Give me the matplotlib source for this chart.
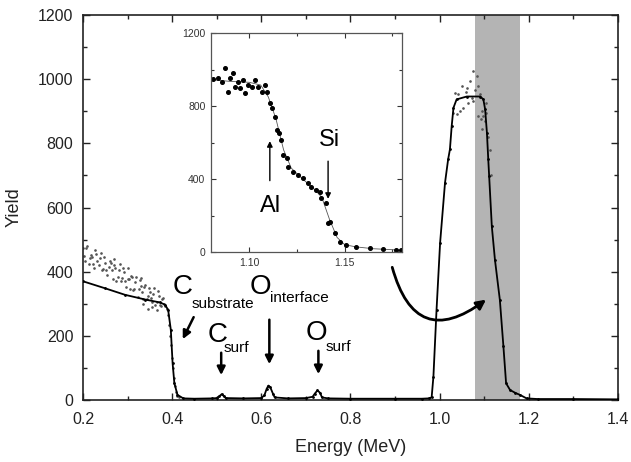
import matplotlib
matplotlib.use("Agg")
import matplotlib.pyplot as plt
from matplotlib.patches import FancyArrowPatch
from matplotlib.ticker import MultipleLocator

plt.rcParams["font.family"] = ["Liberation Sans", "DejaVu Sans"]

# simulated spectrum (solid line)
sim_e = [0.20, 0.25, 0.294, 0.34, 0.373, 0.384, 0.391, 0.397, 0.401, 0.405,
         0.412, 0.425, 0.45, 0.49, 0.50, 0.506, 0.511, 0.516, 0.52, 0.56,
         0.60, 0.607, 0.612, 0.616, 0.620, 0.626, 0.63, 0.66, 0.70, 0.715,
         0.72, 0.726, 0.732, 0.736, 0.75, 0.80, 0.90, 0.96, 0.975, 0.982,
         0.986, 0.993, 1.001, 1.012, 1.019, 1.023, 1.027, 1.031, 1.038, 1.061,
         1.091, 1.098, 1.102, 1.106, 1.109, 1.111, 1.117, 1.124, 1.135, 1.143,
         1.149, 1.158, 1.17, 1.18, 1.195, 1.22, 1.30, 1.40]
sim_y = [370, 348, 328, 313, 304, 297, 281, 219, 115, 52,
         16, 5, 4, 5, 6, 12, 18, 12, 6, 5,
         6, 15, 35, 45, 40, 20, 8, 5, 6, 10,
         20, 30, 22, 8, 5, 4, 4, 4, 5, 8,
         73, 281, 490, 677, 750, 781, 854, 911, 937, 946,
         946, 937, 906, 833, 750, 698, 541, 437, 312, 167,
         52, 31, 22, 16, 5, 3, 3, 2]

# measured points: low energy band, C edge, top of the Al/Si peak
exp_e = [0.2000, 0.2050, 0.2100, 0.2150, 0.2200, 0.2250, 0.2300, 0.2350, 0.2400, 0.2450,
         0.2500, 0.2550, 0.2600, 0.2650, 0.2700, 0.2750, 0.2800, 0.2850, 0.2900, 0.2950,
         0.3000, 0.3050, 0.3100, 0.3150, 0.3200, 0.3250, 0.3300, 0.3350, 0.3400, 0.3450,
         0.3500, 0.3550, 0.3600, 0.3650, 0.3700, 0.3750, 0.3800, 0.3850,
         0.2025, 0.2075, 0.2125, 0.2175, 0.2225, 0.2275, 0.2325, 0.2375, 0.2425, 0.2475,
         0.2525, 0.2575, 0.2625, 0.2675, 0.2725, 0.2775, 0.2825, 0.2875, 0.2925, 0.2975,
         0.3025, 0.3075, 0.3125, 0.3175, 0.3225, 0.3275, 0.3325, 0.3375, 0.3425, 0.3475,
         0.3525, 0.3575, 0.3625, 0.3675, 0.3725, 0.3775, 0.3825,
         0.270, 0.300, 0.330, 0.345, 0.355, 0.365, 0.335,
         0.388, 0.391, 0.394, 0.396, 0.398, 0.400, 0.402, 0.404, 0.406, 0.409,
         0.412, 0.416,
         1.031, 1.034, 1.038, 1.042, 1.046, 1.050, 1.053, 1.058, 1.061, 1.064,
         1.068, 1.072, 1.075, 1.075, 1.079, 1.083, 1.087, 1.087, 1.090, 1.092,
         1.094, 1.094, 1.098, 1.101, 1.103, 1.105, 1.108, 1.112, 1.115]
exp_y = [474, 434, 479, 442, 447, 410, 455, 421, 459, 408,
         427, 391, 433, 405, 420, 371, 405, 371, 411, 372,
         377, 347, 382, 347, 383, 346, 356, 314, 360, 325,
         336, 307, 348, 306, 323, 292, 317, 292,
         449, 474, 424, 451, 425, 467, 432, 443, 405, 446,
         406, 415, 428, 378, 411, 382, 425, 380, 398, 353,
         376, 388, 344, 367, 321, 373, 338, 353, 314, 349,
         318, 331, 295, 340, 296, 316, 298,
         440, 410, 380, 285, 290, 280, 300,
         285, 265, 235, 200, 170, 130, 100, 70, 45, 25,
         14, 8,
         896, 958, 890, 953, 901, 979, 911, 960, 974, 927,
         995, 940, 1026, 932, 965, 1010, 979, 885, 955, 875,
         901, 844, 885, 870, 925, 896, 820, 780, 700]

# inset: zoom on 1.08 - 1.18 MeV
ins_e = [1.0812, 1.0838, 1.0856, 1.0873, 1.0890, 1.0899, 1.0917, 1.0925, 1.0943, 1.0952,
         1.0969, 1.0978, 1.0995, 1.1013, 1.1030, 1.1047, 1.1065, 1.1082, 1.1091, 1.1108,
         1.1117, 1.1134, 1.1143, 1.1157, 1.1169, 1.1178, 1.1196, 1.1204, 1.1230, 1.1256,
         1.1282, 1.1308, 1.1326, 1.1352, 1.1370, 1.1378, 1.1404, 1.1413, 1.1422, 1.1448,
         1.1474, 1.1509, 1.1561, 1.1631, 1.1700, 1.1770, 1.1796]
ins_y = [946, 952, 933, 1010, 878, 952, 979, 906, 933, 897,
         943, 870, 915, 906, 943, 906, 878, 915, 878, 815,
         787, 742, 669, 650, 614, 532, 514, 468, 440, 422,
         404, 377, 358, 340, 331, 294, 267, 157, 166, 102,
         56, 38, 29, 20, 15, 11, 11]
ins_fit_e = [1.08, 1.09, 1.10, 1.106, 1.110, 1.114, 1.118, 1.122, 1.128, 1.134,
             1.138, 1.142, 1.146, 1.150, 1.156, 1.165, 1.18]
ins_fit_y = [945, 935, 930, 915, 850, 730, 560, 460, 400, 345,
             300, 180, 80, 40, 28, 18, 10]

fig = plt.figure(figsize=(6.31, 4.62), dpi=100)
ax = fig.add_axes([0.1315, 0.1342, 0.8479, 0.8333])

ax.axvspan(1.08, 1.18, color="#b4b4b4", lw=0, zorder=0)
ax.plot(exp_e, exp_y, ".", color="#555555", ms=1.8, zorder=2)
ax.plot(sim_e, sim_y, "-", color="black", lw=1.3, zorder=3)
ax.plot(sim_e, sim_y, ".", color="black", ms=2.0, zorder=3)

ax.set_xlim(0.2, 1.4)
ax.set_ylim(0, 1200)
ax.xaxis.set_major_locator(MultipleLocator(0.2))
ax.xaxis.set_minor_locator(MultipleLocator(0.1))
ax.yaxis.set_major_locator(MultipleLocator(200))
ax.yaxis.set_minor_locator(MultipleLocator(100))
ax.xaxis.set_major_formatter(plt.FormatStrFormatter("%.1f"))
ax.tick_params(which="both", direction="in", top=True, right=True, width=1.0,
               labelsize=11.5, colors="#222222")
ax.tick_params(axis="x", pad=9)
ax.tick_params(axis="y", pad=7)
ax.tick_params(which="major", length=5)
ax.tick_params(which="minor", length=3)
for sp in ax.spines.values():
    sp.set_linewidth(1.2)
    sp.set_color("#222222")
ax.set_xlabel("Energy (MeV)", fontsize=13, color="#222222", labelpad=8)
ax.set_ylabel("Yield", fontsize=13, color="#222222", labelpad=11)

# labels and arrows
arrow_kw = dict(arrowstyle="-|>", mutation_scale=12, lw=1.8, color="black")
ax.text(0.401, 353, "C", fontsize=20, va="center", ha="left")
ax.text(0.444, 300, "substrate", fontsize=11, va="center", ha="left")
ax.add_patch(FancyArrowPatch((0.451, 266), (0.421, 182), **arrow_kw))

ax.text(0.48, 202, "C", fontsize=20, va="center", ha="left")
ax.text(0.515, 162, "surf", fontsize=11, va="center", ha="left")
ax.add_patch(FancyArrowPatch((0.510, 156), (0.510, 69), **arrow_kw))

ax.text(0.574, 353, "O", fontsize=20, va="center", ha="left")
ax.text(0.62, 318, "interface", fontsize=11, va="center", ha="left")
ax.add_patch(FancyArrowPatch((0.618, 259), (0.618, 103), **arrow_kw))

ax.text(0.700, 209, "O", fontsize=20, va="center", ha="left")
ax.text(0.745, 165, "surf", fontsize=11, va="center", ha="left")
ax.add_patch(FancyArrowPatch((0.728, 162), (0.728, 72), **arrow_kw))

ax.add_patch(FancyArrowPatch((0.892, 422), (1.109, 318),
                             connectionstyle="arc3,rad=0.75",
                             arrowstyle="-|>", mutation_scale=14, lw=2.0,
                             color="black", zorder=4))

# inset
ins = fig.add_axes([0.3344, 0.4545, 0.3027, 0.474])
ins.plot(ins_fit_e, ins_fit_y, "-", color="#555555", lw=0.6)
ins.plot(ins_e, ins_y, "o", color="black", ms=2.6)
ins.set_xlim(1.08, 1.18)
ins.set_ylim(0, 1200)
ins.xaxis.set_major_locator(MultipleLocator(0.05))
ins.xaxis.set_minor_locator(MultipleLocator(0.025))
ins.yaxis.set_major_locator(MultipleLocator(400))
ins.yaxis.set_minor_locator(MultipleLocator(200))
ins.xaxis.set_major_formatter(plt.FormatStrFormatter("%.2f"))
ins.tick_params(which="both", direction="in", top=True, right=True, width=0.8,
                labelsize=7.5, colors="#333333", pad=4)
ins.tick_params(which="major", length=3.5)
ins.tick_params(which="minor", length=2)
for sp in ins.spines.values():
    sp.set_linewidth(0.9)
    sp.set_color("#555555")

ins.text(1.1114, 252, "Al", fontsize=17, ha="center", va="center")
ins.add_patch(FancyArrowPatch((1.1108, 376), (1.1108, 623), arrowstyle="-|>",
                              mutation_scale=8, lw=1.0, color="black"))
ins.text(1.1422, 616, "Si", fontsize=17, ha="center", va="center")
ins.add_patch(FancyArrowPatch((1.1413, 513), (1.1413, 276), arrowstyle="-|>",
                              mutation_scale=8, lw=1.0, color="black"))

fig.savefig("out.png", dpi=100)
